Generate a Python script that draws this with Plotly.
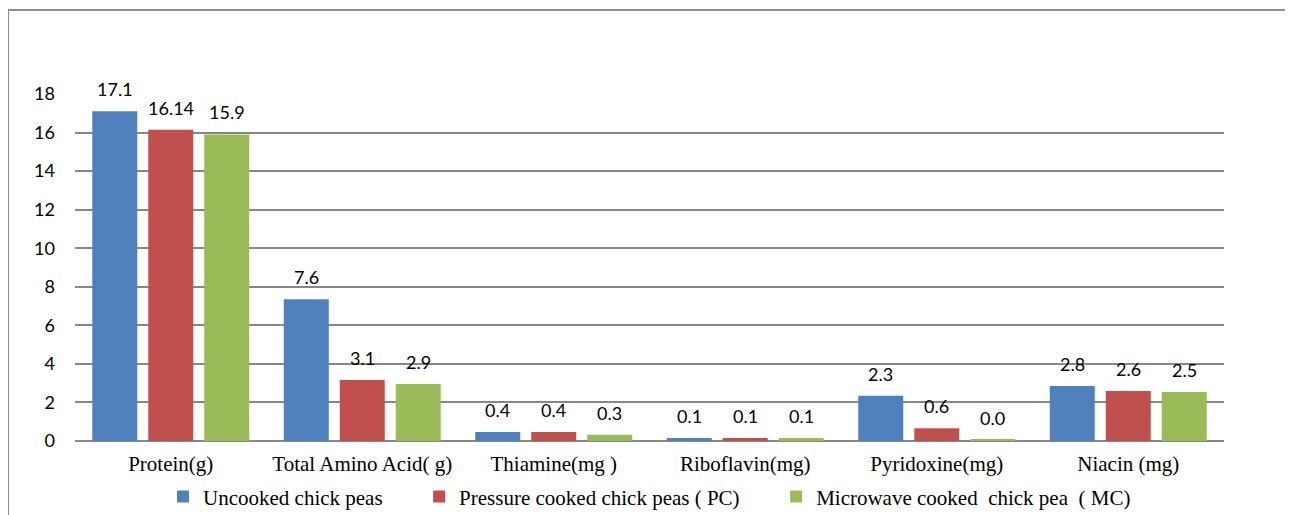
import plotly.graph_objects as go

categories = ["Protein(g)", "Total Amino Acid( g)", "Thiamine(mg )", "Riboflavin(mg)", "Pyridoxine(mg)", "Niacin (mg)"]
series_names = ["Uncooked chick peas", "Pressure cooked chick peas ( PC)", "Microwave cooked  chick pea  ( MC)"]
uncooked = [17.1, 7.35, 0.47, 0.16, 2.35, 2.85]
pressure = [16.14, 3.16, 0.47, 0.16, 0.66, 2.59]
microwave = [15.9, 2.96, 0.33, 0.16, 0.07, 2.54]
label_uncooked = ["17.1", "7.6", "0.4", "0.1", "2.3", "2.8"]
label_pressure = ["16.14", "3.1", "0.4", "0.1", "0.6", "2.6"]
label_microwave = ["15.9", "2.9", "0.3", "0.1", "0.0", "2.5"]
colors = ["#4F81BD", "#C0504D", "#9BBB59"]
y_ticks = [0, 2, 4, 6, 8, 10, 12, 14, 16, 18]

values = [uncooked, pressure, microwave]
labels = [label_uncooked, label_pressure, label_microwave]
pads = ["\u00a0" * 6, "\u00a0" * 6, ""]

fig = go.Figure()
for name, vals, col, pad in zip(series_names, values, colors, pads):
    fig.add_trace(go.Bar(x=categories, y=vals, name=name + pad, marker=dict(color=col, line=dict(width=0))))

annotations = []
for i, (vals, labs) in enumerate(zip(values, labels)):
    for c, v, t in zip(categories, vals, labs):
        annotations.append(dict(x=c, y=v, text=t, showarrow=False, xref="x", yref="y",
                                xshift=(i - 1) * 56, yshift=22, yanchor="middle",
                                font=dict(family="Lato", size=18, color="#000000")))

fig.update_layout(
    width=1285, height=507,
    margin=dict(l=67, r=69, t=86, b=74, autoexpand=False),
    paper_bgcolor="white", plot_bgcolor="white",
    barmode="group", bargap=0.123, bargroupgap=0.196,
    annotations=annotations,
    showlegend=True,
    legend=dict(orientation="h", x=0.5, xanchor="center", y=-0.161, yanchor="middle",
                font=dict(family="Liberation Serif", size=21, color="#000000"),
                itemwidth=30, traceorder="normal"),
    shapes=[dict(type="rect", xref="paper", yref="paper", x0=-0.0583, x1=1.07, y0=-0.24, y1=1.242,
                 line=dict(color="#8C8C8C", width=2), fillcolor="rgba(0,0,0,0)", layer="below")],
)
fig.update_xaxes(showgrid=False, showline=False, ticks="", ticklabelstandoff=8, automargin=False,
                 tickfont=dict(family="Liberation Serif", size=21, color="#000000"))
fig.update_yaxes(range=[0, 18], tickvals=y_ticks, showgrid=True, gridcolor="#878787", gridwidth=2,
                 zeroline=True, zerolinecolor="#878787", zerolinewidth=2, showline=False, ticks="",
                 automargin=False,
                 ticklabelstandoff=19, tickfont=dict(family="Lato", size=18, color="#000000"))

fig.write_html("out.html")
